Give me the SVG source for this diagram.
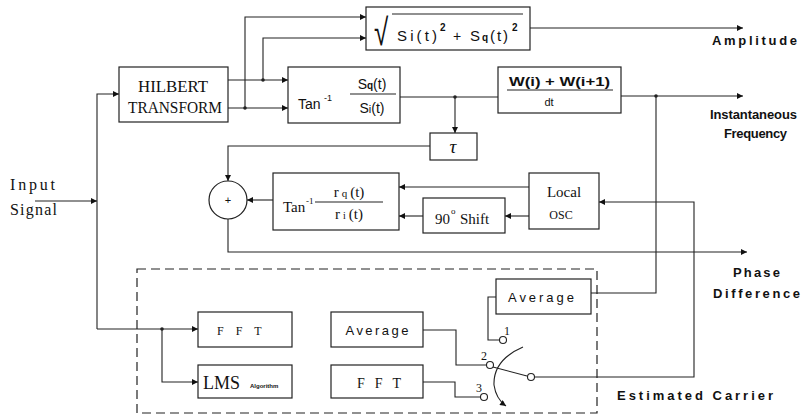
<svg xmlns="http://www.w3.org/2000/svg" width="803" height="417" viewBox="0 0 803 417">
<style>
.box{fill:none;stroke:#222;stroke-width:1.2}
.w{fill:none;stroke:#222;stroke-width:1.1}
.dot{fill:#222}
.term{fill:#fff;stroke:#222;stroke-width:1.1}
.s{font-family:"Liberation Serif","DejaVu Serif",serif;fill:#111}
.a{font-family:"Liberation Sans","DejaVu Sans",sans-serif;fill:#111}
.lbl{font-family:"Liberation Sans","DejaVu Sans",sans-serif;font-size:13px;font-weight:bold;fill:#111}
.c{text-anchor:middle}
</style>
<defs>
<marker id="arr" viewBox="0 0 10 10" refX="10" refY="5" markerWidth="9" markerHeight="6" orient="auto" markerUnits="userSpaceOnUse">
<path d="M0,0 L10,5 L0,10 z" fill="#111"/>
</marker>
</defs>
<rect width="803" height="417" fill="#fff"/>

<g id="connectors">
<path class="w" d="M35,201 H97" marker-end="url(#arr)"/>
<path class="w" d="M97,329 V94 H119" marker-end="url(#arr)"/>
<path class="w" d="M97,329 H198" marker-end="url(#arr)"/>
<path class="w" d="M162,329 V382 H198" marker-end="url(#arr)"/>
<circle class="dot" cx="162" cy="329" r="1.8"/>
<path class="w" d="M228,80 H288" marker-end="url(#arr)"/>
<path class="w" d="M228,108 H288" marker-end="url(#arr)"/>
<path class="w" d="M263,80 V38 H366" marker-end="url(#arr)"/>
<path class="w" d="M245,108 V17 H366" marker-end="url(#arr)"/>
<circle class="dot" cx="263" cy="80" r="1.8"/>
<circle class="dot" cx="245" cy="108" r="1.8"/>
<path class="w" d="M530,28 H743" marker-end="url(#arr)"/>
<path class="w" d="M400,97 H498"/>
<path class="w" d="M455,97 V133" marker-end="url(#arr)"/>
<circle class="dot" cx="455" cy="97" r="1.8"/>
<path class="w" d="M621,96 H743" marker-end="url(#arr)"/>
<path class="w" d="M656,96 V293 H591"/>
<circle class="dot" cx="656" cy="96" r="1.8"/>
<path class="w" d="M430,146 H228 V181" marker-end="url(#arr)"/>
<path class="w" d="M228,219 V252 H747" marker-end="url(#arr)"/>
<path class="w" d="M273,200 H247" marker-end="url(#arr)"/>
<path class="w" d="M529,187 H399" marker-end="url(#arr)"/>
<path class="w" d="M529,216 H505" marker-end="url(#arr)"/>
<path class="w" d="M423,216 H399" marker-end="url(#arr)"/>
<path class="w" d="M535,377 H694 V202 H599" marker-end="url(#arr)"/>
<path class="w" d="M496,297 H488 V340 H499.5"/>
<path class="w" d="M423,330 H456 V365 H486.5"/>
<path class="w" d="M423,382 H455 V397 H480.5"/>
</g>

<g id="hilbert">
<rect class="box" x="119" y="67" width="109" height="55"/>
<text class="s c" x="173" y="92" font-size="16" textLength="70" lengthAdjust="spacingAndGlyphs">HILBERT</text>
<text class="s c" x="175" y="113" font-size="16" textLength="94" lengthAdjust="spacingAndGlyphs">TRANSFORM</text>
</g>

<g id="magnitude">
<rect class="box" x="366" y="7" width="164" height="43"/>
<text class="a" x="0" y="0" font-size="26" transform="translate(374,45) scale(1,1.45)">√</text>
<line class="w" x1="392" y1="14" x2="523" y2="14"/>
<text class="a" x="397" y="41" font-size="15" textLength="40" lengthAdjust="spacing">Si(t)</text>
<text class="a" x="440" y="31" font-size="10" font-weight="bold">2</text>
<text class="a" x="453" y="41" font-size="14">+</text>
<text class="a" x="470" y="41" font-size="15" textLength="38" lengthAdjust="spacing">S<tspan font-size="10" font-weight="bold">q</tspan>(t)</text>
<text class="a" x="512" y="31" font-size="10" font-weight="bold">2</text>
</g>

<g id="arctan1">
<rect class="box" x="288" y="67" width="112" height="56"/>
<text class="a" x="298" y="109" font-size="14">Tan</text>
<text class="a" x="324" y="101" font-size="9">-1</text>
<text class="a c" x="372" y="89" font-size="14">S<tspan font-size="10" font-weight="bold">q</tspan>(t)</text>
<line class="w" x1="350" y1="94" x2="396" y2="94"/>
<text class="a c" x="372" y="113" font-size="14">S<tspan font-size="11">i</tspan>(t)</text>
</g>

<g id="deriv">
<rect class="box" x="498" y="67" width="123" height="46"/>
<text class="a" x="509" y="86" font-size="12" font-weight="bold" textLength="101" lengthAdjust="spacingAndGlyphs">W(i) + W(i+1)</text>
<line class="w" x1="507" y1="90" x2="613" y2="90"/>
<text class="a c" x="549" y="106" font-size="11">dt</text>
</g>

<g id="delay">
<rect class="box" x="430" y="133" width="47" height="27"/>
<text class="s c" x="453" y="153" font-size="19" font-style="italic">τ</text>
</g>

<g id="sum">
<circle class="box" cx="228" cy="200" r="19"/>
<text class="a c" x="228" y="204" font-size="11">+</text>
</g>

<g id="arctan2">
<rect class="box" x="273" y="173" width="126" height="57"/>
<text class="s" x="283" y="212" font-size="15">Tan</text>
<text class="s" x="306" y="204" font-size="9">-1</text>
<text class="s c" x="349" y="197" font-size="15">r<tspan font-size="11" dx="3">q</tspan><tspan dx="3">(t)</tspan></text>
<line class="w" x1="315" y1="202" x2="383" y2="202"/>
<text class="s c" x="349" y="219" font-size="15">r<tspan font-size="10" dx="3">i</tspan><tspan dx="3">(t)</tspan></text>
</g>

<g id="shift90">
<rect class="box" x="423" y="198" width="82" height="35"/>
<text class="s" x="435" y="224" font-size="15">90</text>
<text class="s" x="451" y="214" font-size="9">o</text>
<text class="s" x="460" y="224" font-size="15">Shift</text>
</g>

<g id="localosc">
<rect class="box" x="529" y="173" width="70" height="56"/>
<text class="s c" x="564" y="197" font-size="15">Local</text>
<text class="s c" x="561" y="219" font-size="12">OSC</text>
</g>

<g id="estimator">
<rect x="137" y="269" width="460" height="144" fill="none" stroke="#222" stroke-width="1.2" stroke-dasharray="9 5"/>
</g>

<g id="fft1">
<rect class="box" x="198" y="312" width="94" height="35"/>
<text class="s" x="217" y="335" font-size="12" letter-spacing="12">FFT</text>
</g>

<g id="lms">
<rect class="box" x="198" y="365" width="94" height="33"/>
<text class="s" x="203" y="389" font-size="18">LMS</text>
<text class="a" x="250" y="388" font-size="6" font-weight="bold">Algorithm</text>
</g>

<g id="average1">
<rect class="box" x="331" y="312" width="92" height="35"/>
<text class="a c" x="377" y="335" font-size="13" textLength="63" lengthAdjust="spacing">Average</text>
</g>

<g id="fft2">
<rect class="box" x="331" y="365" width="92" height="33"/>
<text class="s" x="357" y="388" font-size="14" letter-spacing="10">FFT</text>
</g>

<g id="average2">
<rect class="box" x="496" y="279" width="95" height="35"/>
<text class="a c" x="541" y="302" font-size="13" textLength="66" lengthAdjust="spacing">Average</text>
</g>

<g id="switch">
<path class="w" d="M527,376 L493,367"/>
<path class="w" d="M523,347 Q493,360 494,385 Q496,399 506,406" marker-end="url(#arr)"/>
<circle class="term" cx="503" cy="340" r="3.5"/>
<circle class="term" cx="490" cy="365" r="3.5"/>
<circle class="term" cx="484" cy="397" r="3.5"/>
<circle class="term" cx="531" cy="377" r="3.5"/>
<text class="s" x="504" y="335" font-size="12">1</text>
<text class="s" x="481" y="360" font-size="12">2</text>
<text class="s" x="476" y="392" font-size="12">3</text>
</g>

<g id="labels">
<text class="lbl" x="712" y="45" textLength="85" lengthAdjust="spacing">Amplitude</text>
<text class="lbl" x="710" y="119" textLength="87" lengthAdjust="spacing">Instantaneous</text>
<text class="lbl" x="724" y="138" textLength="63" lengthAdjust="spacing">Frequency</text>
<text class="lbl" x="733" y="277" textLength="47" lengthAdjust="spacing">Phase</text>
<text class="lbl" x="713" y="298" textLength="87" lengthAdjust="spacing">Difference</text>
<text class="lbl" x="617" y="400" textLength="156" lengthAdjust="spacing" font-weight="normal">Estimated Carrier</text>
<text class="s" x="10" y="190" font-size="16" textLength="45" lengthAdjust="spacing">Input</text>
<text class="s" x="10" y="215" font-size="16" textLength="47" lengthAdjust="spacing">Signal</text>
</g>
</svg>
